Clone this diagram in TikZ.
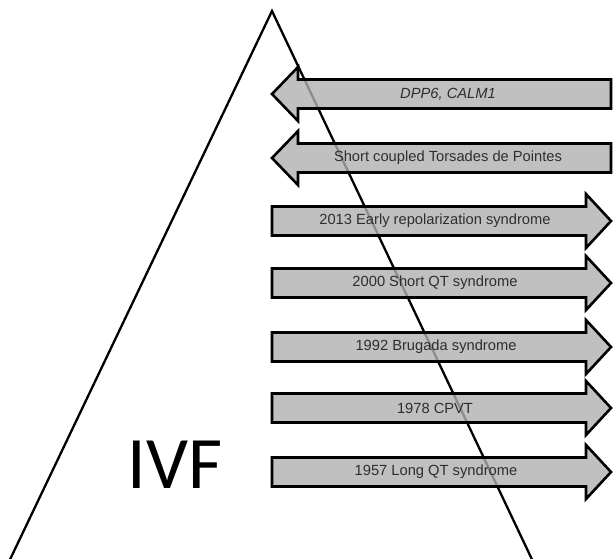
\documentclass[tikz,border=0pt]{standalone}
\usepackage{fontspec}
\setmainfont{Liberation Sans}
\newfontfamily\ivffont{Carlito}
\definecolor{arrowfill}{HTML}{B0B0B0}
\definecolor{labeltext}{HTML}{2E2E2E}
\begin{document}
\begin{tikzpicture}[x=1pt,y=-1pt,
  blockarrow/.style={draw=black,line width=2.6pt,line join=miter,fill=arrowfill,fill opacity=0.8,draw opacity=1},
  arrowlabel/.style={font=\fontsize{14.7}{16}\selectfont,text=labeltext,inner sep=0pt},
  triangleline/.style={line width=2.3pt,black}]
\useasboundingbox (0,0) rectangle (613,558);
\clip (0,0) rectangle (613,558);
% triangle
\coordinate (apex) at (272,11);
\coordinate (bl) at (5,570);
\coordinate (br) at (537,570);
\draw[triangleline] (bl) -- (apex) -- (br);
% left-pointing arrows
\foreach \yc in {94,158}{
  \draw[blockarrow] (611,\yc-14.5) -- (298,\yc-14.5) -- (298,\yc-27) -- (272,\yc)
     -- (298,\yc+27) -- (298,\yc+14.5) -- (611,\yc+14.5) -- cycle;
}
\node[arrowlabel] (dpp) at (448,94) {\itshape DPP6, CALM1};
\node[arrowlabel] (tdp) at (448,158) {Short coupled Torsades de Pointes};
% right-pointing arrows
\foreach \yc in {221,283,347,408,472}{
  \draw[blockarrow] (272,\yc-14.5) -- (586,\yc-14.5) -- (586,\yc-27) -- (611,\yc)
     -- (586,\yc+27) -- (586,\yc+14.5) -- (272,\yc+14.5) -- cycle;
}
\node[arrowlabel] (ers) at (435,221) {2013 Early repolarization syndrome};
\node[arrowlabel] (sqt) at (435,283) {2000 Short QT syndrome};
\node[arrowlabel] (bru) at (436,347) {1992 Brugada syndrome};
\node[arrowlabel] (cpvt) at (435,408) {1978 CPVT};
\node[arrowlabel] (lqt) at (436,472) {1957 Long QT syndrome};
% IVF label
\node[anchor=base,inner sep=0pt,font=\ivffont\fontsize{74}{80}\selectfont] (ivf) at (175,488) {IVF};
\end{tikzpicture}
\end{document}
